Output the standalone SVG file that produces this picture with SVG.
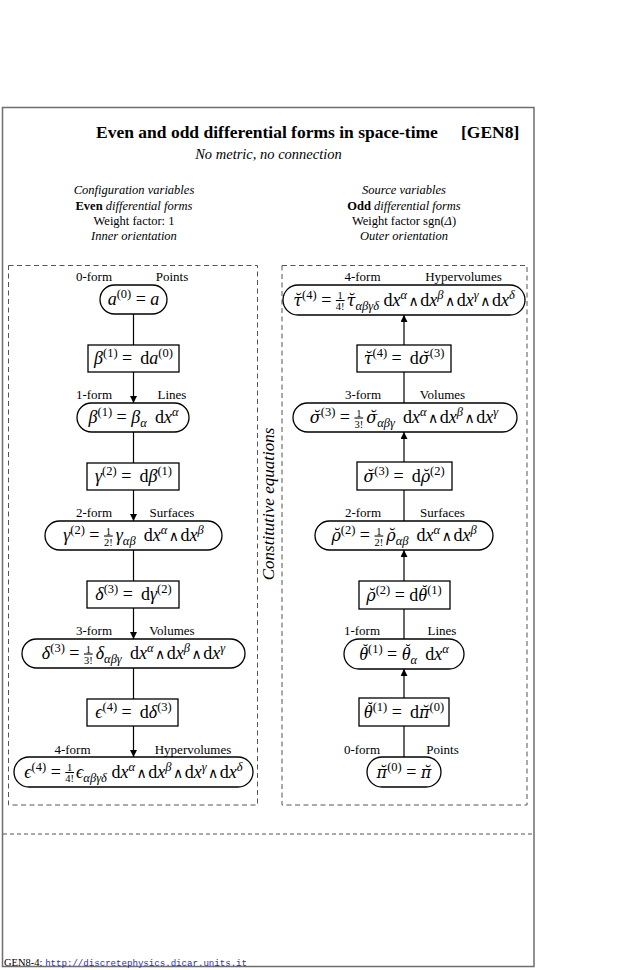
<svg xmlns="http://www.w3.org/2000/svg" width="622" height="970" viewBox="0 0 622 970">
<style>
.bg{fill:#fff}
.frame{fill:none;stroke:#6e6e6e;stroke-width:1.5}
.dash{fill:none;stroke:#555;stroke-width:1;stroke-dasharray:5 3.5}
.hdash{fill:none;stroke:#555;stroke-width:1;stroke-dasharray:4 3}
.pill{fill:#fff;stroke:#000;stroke-width:1.3}
.box{fill:#fff;stroke:#000;stroke-width:1.3}
.conn line{stroke:#000;stroke-width:1.2}
.t{font-family:"Liberation Serif","DejaVu Serif",serif;fill:#000}
.title{font-size:17.5px;font-weight:bold}
.sub{font-size:14.5px;font-style:italic;text-anchor:middle}
.hd{font-size:12.5px;text-anchor:middle}
.it{font-style:italic}
.b{font-weight:bold;font-style:normal}
.lbl{font-size:13px;text-anchor:middle}
.m{font-family:"Liberation Serif","DejaVu Serif",serif;font-size:18px;fill:#000;text-anchor:middle}
.i{font-style:italic}
.p{font-size:12.5px}
.f{font-size:10.5px}
.ov{text-decoration:overline}
.w{font-size:14px;font-family:"DejaVu Serif","Liberation Serif",serif}
.g{font-family:"DejaVu Serif",serif;font-style:italic;font-size:16px}
.br{font-size:15px;font-style:normal}
.ce{font-family:"Liberation Serif",serif;font-size:17px;font-style:italic;text-anchor:middle}
.foot{font-family:"Liberation Serif",serif;font-size:10.5px}
.url{font-family:"Liberation Mono","DejaVu Sans Mono",monospace;font-size:9.1px;fill:#1f1fee}
</style>
<defs>
<marker id="arr" viewBox="0 0 10 10" refX="10" refY="5" markerWidth="9" markerHeight="7" markerUnits="userSpaceOnUse" orient="auto">
<path d="M0,0 L10,5 L0,10 z" fill="#000"/>
</marker>
</defs>
<rect class="bg" x="0" y="0" width="622" height="970"/>
<rect class="frame" x="2.5" y="107.5" width="531.5" height="859"/>
<line class="hdash" x1="3" y1="834" x2="533" y2="834"/>

<g id="header">
<text class="t title" x="96" y="137.5">Even and odd differential forms in space-time</text>
<text class="t title" x="461" y="137.5">[GEN8]</text>
<text class="t sub" x="268.5" y="158.5">No metric, no connection</text>
<text class="t hd it" x="134" y="194">Configuration variables</text>
<text class="t hd" x="134" y="209.5"><tspan class="b">Even</tspan> <tspan class="it">differential forms</tspan></text>
<text class="t hd" x="134" y="224.5">Weight factor: 1</text>
<text class="t hd it" x="134" y="239.5">Inner orientation</text>
<text class="t hd it" x="404" y="194">Source variables</text>
<text class="t hd" x="404" y="209.5"><tspan class="b">Odd</tspan> <tspan class="it">differential forms</tspan></text>
<text class="t hd" x="404" y="224.5">Weight factor sgn(<tspan class="it">Δ</tspan>)</text>
<text class="t hd it" x="404" y="239.5">Outer orientation</text>
</g>

<rect class="dash" x="8.5" y="265.5" width="249" height="539.5"/>
<rect class="dash" x="282" y="265.5" width="245" height="539.5"/>

<text class="ce" transform="translate(274,504) rotate(-90)">Constitutive equations</text>

<g class="conn" id="connectors">
<line x1="133.5" y1="314" x2="133.5" y2="345"/>
<line x1="133.5" y1="372" x2="133.5" y2="403" marker-end="url(#arr)"/>
<line x1="133.5" y1="432" x2="133.5" y2="463"/>
<line x1="133.5" y1="490" x2="133.5" y2="521" marker-end="url(#arr)"/>
<line x1="133.5" y1="550" x2="133.5" y2="581"/>
<line x1="133.5" y1="608" x2="133.5" y2="639" marker-end="url(#arr)"/>
<line x1="133.5" y1="668" x2="133.5" y2="699"/>
<line x1="133.5" y1="726" x2="133.5" y2="757" marker-end="url(#arr)"/>
<line x1="404" y1="757" x2="404" y2="726"/>
<line x1="404" y1="698" x2="404" y2="669" marker-end="url(#arr)"/>
<line x1="404" y1="639" x2="404" y2="609"/>
<line x1="404" y1="581" x2="404" y2="550" marker-end="url(#arr)"/>
<line x1="404" y1="521" x2="404" y2="490"/>
<line x1="404" y1="462" x2="404" y2="432" marker-end="url(#arr)"/>
<line x1="404" y1="403" x2="404" y2="372"/>
<line x1="404" y1="345" x2="404" y2="315" marker-end="url(#arr)"/>
</g>

<!-- Left column -->
<g id="L0">
<text class="t lbl" x="94" y="281">0-form</text>
<text class="t lbl" x="172" y="281">Points</text>
<rect class="pill" x="100" y="285" width="67" height="29" rx="14.5"/>
<text class="m" x="133.5" y="305"><tspan class="i">a</tspan><tspan class="p" dy="-7">(0)</tspan><tspan dy="7"> = </tspan><tspan class="i">a</tspan></text>
</g>
<g id="LB1">
<rect class="box" x="88" y="345" width="91" height="27"/>
<text class="m" x="133.5" y="364"><tspan class="i">β</tspan><tspan class="p" dy="-7">(1)</tspan><tspan dy="7"> = &#8201;d</tspan><tspan class="i">a</tspan><tspan class="p" dy="-7">(0)</tspan></text>
</g>
<g id="L1">
<text class="t lbl" x="94" y="399">1-form</text>
<text class="t lbl" x="172" y="399">Lines</text>
<rect class="pill" x="77" y="403" width="112" height="29" rx="14.5"/>
<text class="m" x="133.5" y="423"><tspan class="i">β</tspan><tspan class="p" dy="-7">(1)</tspan><tspan dy="7"> = </tspan><tspan class="i">β</tspan><tspan class="p i" dy="4">α</tspan><tspan dy="-4"> &#8201;d</tspan><tspan class="i">x</tspan><tspan class="p i" dy="-7">α</tspan></text>
</g>
<g id="LB2">
<rect class="box" x="87" y="463" width="92" height="27"/>
<text class="m" x="133.5" y="482"><tspan class="i">γ</tspan><tspan class="p" dy="-7">(2)</tspan><tspan dy="7"> = &#8201;d</tspan><tspan class="i">β</tspan><tspan class="p" dy="-7">(1)</tspan></text>
</g>
<g id="L2">
<text class="t lbl" x="94" y="517">2-form</text>
<text class="t lbl" x="172" y="517">Surfaces</text>
<rect class="pill" x="45" y="521" width="177" height="29" rx="14.5"/>
<text class="m" x="133.5" y="541"><tspan class="i">γ</tspan><tspan class="p" dy="-7">(2)</tspan><tspan dy="7"> = </tspan><tspan class="f" dx="1.75" dy="-6.5">1</tspan><tspan class="f ov" dx="-7" dy="11">2!</tspan><tspan class="i" dx="3" dy="-4.5">γ</tspan><tspan class="p i" dy="4">αβ</tspan><tspan dy="-4"> &#8201;d</tspan><tspan class="i">x</tspan><tspan class="p i" dy="-7">α</tspan><tspan class="w" dx="1.5" dy="7">∧</tspan><tspan dx="1.5">d</tspan><tspan class="i">x</tspan><tspan class="p i" dy="-7">β</tspan></text>
</g>
<g id="LB3">
<rect class="box" x="87" y="581" width="92" height="27"/>
<text class="m" x="133.5" y="600"><tspan class="i">δ</tspan><tspan class="p" dy="-7">(3)</tspan><tspan dy="7"> = &#8201;d</tspan><tspan class="i">γ</tspan><tspan class="p" dy="-7">(2)</tspan></text>
</g>
<g id="L3">
<text class="t lbl" x="94" y="635">3-form</text>
<text class="t lbl" x="172" y="635">Volumes</text>
<rect class="pill" x="22" y="639" width="223" height="29" rx="14.5"/>
<text class="m" x="133.5" y="659"><tspan class="i">δ</tspan><tspan class="p" dy="-7">(3)</tspan><tspan dy="7"> = </tspan><tspan class="f" dx="1.75" dy="-6.5">1</tspan><tspan class="f ov" dx="-7" dy="11">3!</tspan><tspan class="i" dx="3" dy="-4.5">δ</tspan><tspan class="p i" dy="4">αβγ</tspan><tspan dy="-4"> &#8201;d</tspan><tspan class="i">x</tspan><tspan class="p i" dy="-7">α</tspan><tspan class="w" dx="1.5" dy="7">∧</tspan><tspan dx="1.5">d</tspan><tspan class="i">x</tspan><tspan class="p i" dy="-7">β</tspan><tspan class="w" dx="1.5" dy="7">∧</tspan><tspan dx="1.5">d</tspan><tspan class="i">x</tspan><tspan class="p i" dy="-7">γ</tspan></text>
</g>
<g id="LB4">
<rect class="box" x="87" y="699" width="91" height="27"/>
<text class="m" x="133.5" y="718"><tspan class="i">ϵ</tspan><tspan class="p" dy="-7">(4)</tspan><tspan dy="7"> = &#8201;d</tspan><tspan class="i">δ</tspan><tspan class="p" dy="-7">(3)</tspan></text>
</g>
<g id="L4">
<text class="t lbl" x="72.5" y="753.5">4-form</text>
<text class="t lbl" x="193" y="753.5">Hypervolumes</text>
<rect class="pill" x="14" y="757" width="239" height="30" rx="15"/>
<text class="m" x="133.5" y="777.5"><tspan class="i">ϵ</tspan><tspan class="p" dy="-7">(4)</tspan><tspan dy="7"> = </tspan><tspan class="f" dx="1.75" dy="-6.5">1</tspan><tspan class="f ov" dx="-7" dy="11">4!</tspan><tspan class="i" dx="2" dy="-4.5">ϵ</tspan><tspan class="p i" dy="4">αβγδ</tspan><tspan dy="-4"> d</tspan><tspan class="i">x</tspan><tspan class="p i" dy="-7">α</tspan><tspan class="w" dx="1.5" dy="7">∧</tspan><tspan dx="1.5">d</tspan><tspan class="i">x</tspan><tspan class="p i" dy="-7">β</tspan><tspan class="w" dx="1.5" dy="7">∧</tspan><tspan dx="1.5">d</tspan><tspan class="i">x</tspan><tspan class="p i" dy="-7">γ</tspan><tspan class="w" dx="1.5" dy="7">∧</tspan><tspan dx="1.5">d</tspan><tspan class="i">x</tspan><tspan class="p i" dy="-7">δ</tspan></text>
</g>

<!-- Right column -->
<g id="R4">
<text class="t lbl" x="362.5" y="280.5">4-form</text>
<text class="t lbl" x="463.5" y="280.5">Hypervolumes</text>
<rect class="pill" x="283" y="285" width="242" height="30" rx="15"/>
<text class="m" x="404" y="305.5"><tspan class="g">τ̆</tspan><tspan class="p" dy="-7">(4)</tspan><tspan dy="7"> = </tspan><tspan class="f" dx="1.75" dy="-6.5">1</tspan><tspan class="f ov" dx="-7" dy="11">4!</tspan><tspan class="g" dx="2" dy="-4.5">τ̆</tspan><tspan class="p i" dy="4">αβγδ</tspan><tspan dy="-4"> d</tspan><tspan class="i">x</tspan><tspan class="p i" dy="-7">α</tspan><tspan class="w" dx="1.5" dy="7">∧</tspan><tspan dx="1.5">d</tspan><tspan class="i">x</tspan><tspan class="p i" dy="-7">β</tspan><tspan class="w" dx="1.5" dy="7">∧</tspan><tspan dx="1.5">d</tspan><tspan class="i">x</tspan><tspan class="p i" dy="-7">γ</tspan><tspan class="w" dx="1.5" dy="7">∧</tspan><tspan dx="1.5">d</tspan><tspan class="i">x</tspan><tspan class="p i" dy="-7">δ</tspan></text>
</g>
<g id="RB4">
<rect class="box" x="357" y="345" width="94" height="27"/>
<text class="m" x="404" y="364"><tspan class="g">τ̆</tspan><tspan class="p" dy="-7">(4)</tspan><tspan dy="7"> = &#8201;d</tspan><tspan class="g">σ̆</tspan><tspan class="p" dy="-7">(3)</tspan></text>
</g>
<g id="R3">
<text class="t lbl" x="363" y="399">3-form</text>
<text class="t lbl" x="442.5" y="399">Volumes</text>
<rect class="pill" x="293" y="403" width="224" height="29" rx="14.5"/>
<text class="m" x="404" y="423"><tspan class="g">σ̆</tspan><tspan class="p" dy="-7">(3)</tspan><tspan dy="7"> = </tspan><tspan class="f" dx="1.75" dy="-6.5">1</tspan><tspan class="f ov" dx="-7" dy="11">3!</tspan><tspan class="g" dx="3" dy="-4.5">σ̆</tspan><tspan class="p i" dy="4">αβγ</tspan><tspan dy="-4"> &#8201;d</tspan><tspan class="i">x</tspan><tspan class="p i" dy="-7">α</tspan><tspan class="w" dx="1.5" dy="7">∧</tspan><tspan dx="1.5">d</tspan><tspan class="i">x</tspan><tspan class="p i" dy="-7">β</tspan><tspan class="w" dx="1.5" dy="7">∧</tspan><tspan dx="1.5">d</tspan><tspan class="i">x</tspan><tspan class="p i" dy="-7">γ</tspan></text>
</g>
<g id="RB3">
<rect class="box" x="357" y="462" width="95" height="28"/>
<text class="m" x="404" y="481.5"><tspan class="g">σ̆</tspan><tspan class="p" dy="-7">(3)</tspan><tspan dy="7"> = &#8201;d</tspan><tspan class="g">ρ̆</tspan><tspan class="p" dy="-7">(2)</tspan></text>
</g>
<g id="R2">
<text class="t lbl" x="363" y="517">2-form</text>
<text class="t lbl" x="442.5" y="517">Surfaces</text>
<rect class="pill" x="315" y="521" width="178" height="29" rx="14.5"/>
<text class="m" x="404" y="541"><tspan class="g">ρ̆</tspan><tspan class="p" dy="-7">(2)</tspan><tspan dy="7"> = </tspan><tspan class="f" dx="1.75" dy="-6.5">1</tspan><tspan class="f ov" dx="-7" dy="11">2!</tspan><tspan class="g" dx="3" dy="-4.5">ρ̆</tspan><tspan class="p i" dy="4">αβ</tspan><tspan dy="-4"> &#8201;d</tspan><tspan class="i">x</tspan><tspan class="p i" dy="-7">α</tspan><tspan class="w" dx="1.5" dy="7">∧</tspan><tspan dx="1.5">d</tspan><tspan class="i">x</tspan><tspan class="p i" dy="-7">β</tspan></text>
</g>
<g id="RB2">
<rect class="box" x="359" y="581" width="91" height="28"/>
<text class="m" x="404" y="600.5"><tspan class="g">ρ̆</tspan><tspan class="p" dy="-7">(2)</tspan><tspan dy="7"> = d</tspan><tspan class="i">θ</tspan><tspan class="br" dx="-5" dy="-6">˘</tspan><tspan class="p" dy="-1">(1)</tspan></text>
</g>
<g id="R1">
<text class="t lbl" x="362" y="635">1-form</text>
<text class="t lbl" x="442" y="635">Lines</text>
<rect class="pill" x="344" y="639" width="120" height="30" rx="15"/>
<text class="m" x="404" y="659.5"><tspan class="i">θ</tspan><tspan class="br" dx="-5" dy="-6">˘</tspan><tspan class="p" dy="-1">(1)</tspan><tspan dy="7"> = </tspan><tspan class="i">θ</tspan><tspan class="br" dx="-5" dy="-6">˘</tspan><tspan class="p i" dy="10">α</tspan><tspan dy="-4"> &#8201;d</tspan><tspan class="i">x</tspan><tspan class="p i" dy="-7">α</tspan></text>
</g>
<g id="RB1">
<rect class="box" x="359" y="698" width="90" height="28"/>
<text class="m" x="404" y="717.5"><tspan class="i">θ</tspan><tspan class="br" dx="-5" dy="-6">˘</tspan><tspan class="p" dy="-1">(1)</tspan><tspan dy="7"> = &#8201;d</tspan><tspan class="g">π̆</tspan><tspan class="p" dy="-7">(0)</tspan></text>
</g>
<g id="R0">
<text class="t lbl" x="362" y="753.5">0-form</text>
<text class="t lbl" x="442.5" y="753.5">Points</text>
<rect class="pill" x="367" y="757" width="74" height="30" rx="15"/>
<text class="m" x="404" y="777.5"><tspan class="g">π̆</tspan><tspan class="p" dy="-7">(0)</tspan><tspan dy="7"> = </tspan><tspan class="g">π̆</tspan></text>
</g>

<g id="footer">
<text class="foot" x="4" y="966">GEN8-4: <tspan class="url">http://discretephysics.dicar.units.it</tspan></text>
</g>
</svg>
